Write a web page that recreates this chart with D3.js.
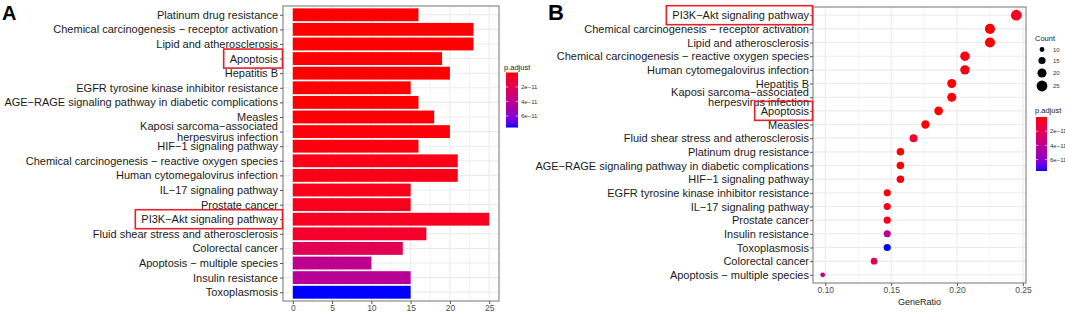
<!DOCTYPE html>
<html lang="en">

<head>
    <meta charset="UTF-8">
    <title>KEGG enrichment</title>
    <script src="https://d3js.org/d3.v7.min.js"></script>
    <style>
        body { margin: 0; background: #fff; }
        svg { display: block; font-family: 'Liberation Sans', Arial, sans-serif; }
    </style>
</head>

<body>
<svg></svg>

<script>
  // panel A (bar plot), top to bottom
  const pathways = [
    'Platinum drug resistance',
    'Chemical carcinogenesis − receptor activation',
    'Lipid and atherosclerosis',
    'Apoptosis',
    'Hepatitis B',
    'EGFR tyrosine kinase inhibitor resistance',
    'AGE−RAGE signaling pathway in diabetic complications',
    'Measles',
    'Kaposi sarcoma−associated\nherpesvirus infection',
    'HIF−1 signaling pathway',
    'Chemical carcinogenesis − reactive oxygen species',
    'Human cytomegalovirus infection',
    'IL−17 signaling pathway',
    'Prostate cancer',
    'PI3K−Akt signaling pathway',
    'Fluid shear stress and atherosclerosis',
    'Colorectal cancer',
    'Apoptosis − multiple species',
    'Insulin resistance',
    'Toxoplasmosis'
  ]
  const counts = [16, 23, 23, 19, 20, 15, 16, 18, 20, 16, 21, 21, 15, 15, 25, 17, 14, 10, 15, 15]
  const pAdjust = [2e-16, 5e-16, 1e-15, 3e-15, 1e-14, 5e-14, 1.5e-13, 4e-13, 1.2e-12, 2e-12,
    3e-12, 3.2e-12, 4e-12, 4.5e-12, 5e-12, 8e-12, 2e-11, 4e-11, 4.2e-11, 7.6e-11]

  // panel B (dot plot), top to bottom
  const dotPathways = [
    'PI3K−Akt signaling pathway',
    'Chemical carcinogenesis − receptor activation',
    'Lipid and atherosclerosis',
    'Chemical carcinogenesis − reactive oxygen species',
    'Human cytomegalovirus infection',
    'Hepatitis B',
    'Kaposi sarcoma−associated\nherpesvirus infection',
    'Apoptosis',
    'Measles',
    'Fluid shear stress and atherosclerosis',
    'Platinum drug resistance',
    'AGE−RAGE signaling pathway in diabetic complications',
    'HIF−1 signaling pathway',
    'EGFR tyrosine kinase inhibitor resistance',
    'IL−17 signaling pathway',
    'Prostate cancer',
    'Insulin resistance',
    'Toxoplasmosis',
    'Colorectal cancer',
    'Apoptosis − multiple species'
  ]
  const geneRatio = [0.245, 0.225, 0.225, 0.206, 0.206, 0.196, 0.196, 0.186, 0.176, 0.167,
    0.157, 0.157, 0.157, 0.147, 0.147, 0.147, 0.147, 0.147, 0.137, 0.098]

  const barTicks = [0, 5, 10, 15, 20, 25]
  const ratioTicks = [0.10, 0.15, 0.20, 0.25]
  const countTicks = [10, 15, 20, 25]
  const pTicks = [2e-11, 4e-11, 6e-11]
  const highlighted = ['Apoptosis', 'PI3K−Akt signaling pathway']

  const width = 1065
  const height = 312

  const svg = d3.select('svg')
    .attr('width', width)
    .attr('height', height)

  // red (small p) -> blue (large p), Lab like ggplot
  const pExtent = [0, d3.max(pAdjust)]
  const color = d3.scaleLinear()
    .domain(pExtent)
    .range(['red', 'blue'])
    .interpolate(d3.interpolateLab)

  const byName = new Map(pathways.map((p, i) => [p, { count: counts[i], p: pAdjust[i] }]))

  const gridMajor = '#ebebeb'
  const border = '#8a8a8a'
  const boxRed = '#e8202a'

  // gradient for both colour bars
  const grad = svg.append('defs').append('linearGradient')
    .attr('id', 'pgrad')
    .attr('x1', 0).attr('y1', 0).attr('x2', 0).attr('y2', 1)
  d3.range(0, 1.0001, 0.05).forEach(t => {
    grad.append('stop')
      .attr('offset', t)
      .attr('stop-color', color(pExtent[0] + t * (pExtent[1] - pExtent[0])))
  })

  // multi-line tick labels
  function wrapLabels(sel) {
    sel.selectAll('.tick text').each(function (d) {
      const lines = d.split('\n')
      if (lines.length < 2) return
      const t = d3.select(this).text(null)
      const x = t.attr('x')
      lines.forEach((l, i) => {
        t.append('tspan')
          .attr('x', x)
          .attr('dy', i === 0 ? `${0.32 - (lines.length - 1) * 0.47}em` : '0.94em')
          .text(l)
      })
    })
  }

  function styleAxis(g, fontSize, fill) {
    g.select('.domain').remove()
    g.selectAll('.tick line').attr('stroke', '#555')
    g.selectAll('.tick text')
      .attr('fill', fill)
      .style('font-size', fontSize + 'px')
      .style('font-family', "'Liberation Sans', Arial, sans-serif")
  }

  function highlightBoxes(g, yScale, panelLeft) {
    g.selectAll('.tick').each(function (d) {
      if (!highlighted.includes(d)) return
      const b = this.querySelector('text').getBBox()
      const y = yScale(d)
      g.append('rect')
        .attr('x', b.x - 6)
        .attr('y', y - 9.5)
        .attr('width', -b.x + 6 - 0.5)
        .attr('height', 19)
        .attr('fill', 'none')
        .attr('stroke', boxRed)
        .attr('stroke-width', 1.6)
    })
  }

  // ---------- panel A : bar plot ----------
  const A = { left: 283, right: 499, top: 6, bottom: 301 }
  const padA = 0.05 * d3.max(counts)
  const xA = d3.scaleLinear().domain([-padA, d3.max(counts) + padA]).range([A.left, A.right])
  const yA = d3.scalePoint().domain(pathways).range([A.top, A.bottom]).padding(0.6)

  const gA = svg.append('g')

  // grid
  const minorA = d3.pairs(barTicks).map(([a, b]) => (a + b) / 2)
  gA.append('g').selectAll('line').data(minorA).join('line')
    .attr('x1', d => xA(d)).attr('x2', d => xA(d))
    .attr('y1', A.top).attr('y2', A.bottom)
    .attr('stroke', gridMajor).attr('stroke-width', 0.6)
  gA.append('g').selectAll('line').data(barTicks).join('line')
    .attr('x1', d => xA(d)).attr('x2', d => xA(d))
    .attr('y1', A.top).attr('y2', A.bottom)
    .attr('stroke', gridMajor).attr('stroke-width', 1.1)
  gA.append('g').selectAll('line').data(pathways).join('line')
    .attr('x1', A.left).attr('x2', A.right)
    .attr('y1', d => yA(d)).attr('y2', d => yA(d))
    .attr('stroke', gridMajor).attr('stroke-width', 1.1)

  // bars
  const barH = yA.step() * 0.88
  gA.append('g').selectAll('rect').data(pathways).join('rect')
    .attr('x', xA(0))
    .attr('y', d => yA(d) - barH / 2)
    .attr('width', (d, i) => xA(counts[i]) - xA(0))
    .attr('height', barH)
    .attr('fill', (d, i) => color(pAdjust[i]))

  gA.append('rect')
    .attr('x', A.left).attr('y', A.top)
    .attr('width', A.right - A.left).attr('height', A.bottom - A.top)
    .attr('fill', 'none').attr('stroke', border).attr('stroke-width', 1.2)

  const axLeftA = gA.append('g')
    .attr('transform', `translate(${A.left},0)`)
    .call(d3.axisLeft(yA).tickSize(3).tickPadding(2))
  styleAxis(axLeftA, 11, '#1a1a1a')
  wrapLabels(axLeftA)
  highlightBoxes(axLeftA, yA, A.left)

  const axBottomA = gA.append('g')
    .attr('transform', `translate(0,${A.bottom})`)
    .call(d3.axisBottom(xA).tickValues(barTicks).tickSize(3).tickPadding(1))
  styleAxis(axBottomA, 8.5, '#4d4d4d')

  // colour legend A
  const legA = svg.append('g')
  const legAy = d3.scaleLinear().domain(pExtent).range([72.5, 127.5])
  legA.append('text').attr('x', 504).attr('y', 69.5)
    .style('font-size', '7.5px').attr('fill', '#222').text('p.adjust')
  legA.append('rect').attr('x', 506).attr('y', 72.5)
    .attr('width', 12).attr('height', 55).attr('fill', 'url(#pgrad)')
  legA.selectAll('line.tk').data(pTicks).join('line')
    .attr('x1', 506).attr('x2', 518)
    .attr('y1', d => legAy(d)).attr('y2', d => legAy(d))
    .attr('stroke', '#fff').attr('stroke-width', 0.6).attr('stroke-dasharray', '2.4,7.2,2.4')
  legA.selectAll('text.lb').data(pTicks).join('text')
    .attr('class', 'lb')
    .attr('x', 521).attr('y', d => legAy(d)).attr('dy', '0.35em')
    .style('font-size', '6px').attr('fill', '#333')
    .text(d => d3.format('.0e')(d).replace('e-', 'e−'))

  // ---------- panel B : dot plot ----------
  const B = { left: 813, right: 1026, top: 7, bottom: 283 }
  const rExt = d3.extent(geneRatio)
  const padB = 0.05 * (rExt[1] - rExt[0])
  const xB = d3.scaleLinear().domain([rExt[0] - padB, rExt[1] + padB]).range([B.left, B.right])
  const yB = d3.scalePoint().domain(dotPathways).range([B.top, B.bottom]).padding(0.6)
  const rB = d3.scaleLinear().domain([Math.sqrt(10), Math.sqrt(25)]).range([2.4, 5.4])
  const radius = c => rB(Math.sqrt(c))

  const gB = svg.append('g')

  const minorB = d3.pairs(ratioTicks).map(([a, b]) => (a + b) / 2)
  gB.append('g').selectAll('line').data(minorB).join('line')
    .attr('x1', d => xB(d)).attr('x2', d => xB(d))
    .attr('y1', B.top).attr('y2', B.bottom)
    .attr('stroke', gridMajor).attr('stroke-width', 0.6)
  gB.append('g').selectAll('line').data(ratioTicks).join('line')
    .attr('x1', d => xB(d)).attr('x2', d => xB(d))
    .attr('y1', B.top).attr('y2', B.bottom)
    .attr('stroke', gridMajor).attr('stroke-width', 1.1)
  gB.append('g').selectAll('line').data(dotPathways).join('line')
    .attr('x1', B.left).attr('x2', B.right)
    .attr('y1', d => yB(d)).attr('y2', d => yB(d))
    .attr('stroke', gridMajor).attr('stroke-width', 1.1)

  gB.append('g').selectAll('circle').data(dotPathways).join('circle')
    .attr('cx', (d, i) => xB(geneRatio[i]))
    .attr('cy', d => yB(d))
    .attr('r', d => radius(byName.get(d).count))
    .attr('fill', d => color(byName.get(d).p))

  gB.append('rect')
    .attr('x', B.left).attr('y', B.top)
    .attr('width', B.right - B.left).attr('height', B.bottom - B.top)
    .attr('fill', 'none').attr('stroke', border).attr('stroke-width', 1.2)

  const axLeftB = gB.append('g')
    .attr('transform', `translate(${B.left},0)`)
    .call(d3.axisLeft(yB).tickSize(3).tickPadding(1))
  styleAxis(axLeftB, 11, '#1a1a1a')
  wrapLabels(axLeftB)
  highlightBoxes(axLeftB, yB, B.left)

  const axBottomB = gB.append('g')
    .attr('transform', `translate(0,${B.bottom})`)
    .call(d3.axisBottom(xB).tickValues(ratioTicks).tickFormat(d3.format('.2f')).tickSize(3).tickPadding(1))
  styleAxis(axBottomB, 8.5, '#4d4d4d')

  gB.append('text')
    .attr('x', (B.left + B.right) / 2).attr('y', 305)
    .attr('text-anchor', 'middle')
    .style('font-size', '9px').attr('fill', '#222')
    .text('GeneRatio')

  // size legend B
  const legB = svg.append('g')
  const countY = [49.5, 60.5, 73, 86]
  legB.append('text').attr('x', 1035).attr('y', 41)
    .style('font-size', '7.5px').attr('fill', '#222').text('Count')
  legB.selectAll('circle').data(countTicks).join('circle')
    .attr('cx', 1042).attr('cy', (d, i) => countY[i])
    .attr('r', d => radius(d)).attr('fill', '#000')
  legB.selectAll('text.ct').data(countTicks).join('text')
    .attr('class', 'ct')
    .attr('x', 1053).attr('y', (d, i) => countY[i]).attr('dy', '0.35em')
    .style('font-size', '6px').attr('fill', '#333').text(d => d)

  // colour legend B
  const legBy = d3.scaleLinear().domain(pExtent).range([117, 171])
  legB.append('text').attr('x', 1035).attr('y', 113)
    .style('font-size', '7.5px').attr('fill', '#222').text('p.adjust')
  legB.append('rect').attr('x', 1036).attr('y', 117)
    .attr('width', 11).attr('height', 54).attr('fill', 'url(#pgrad)')
  legB.selectAll('line.tk').data(pTicks).join('line')
    .attr('x1', 1036).attr('x2', 1047)
    .attr('y1', d => legBy(d)).attr('y2', d => legBy(d))
    .attr('stroke', '#fff').attr('stroke-width', 0.6).attr('stroke-dasharray', '2.2,6.6,2.2')
  legB.selectAll('text.lb').data(pTicks).join('text')
    .attr('class', 'lb')
    .attr('x', 1050).attr('y', d => legBy(d)).attr('dy', '0.35em')
    .style('font-size', '6px').attr('fill', '#333')
    .text(d => d3.format('.0e')(d).replace('e-', 'e−'))

  // panel tags
  svg.append('text').attr('x', 2).attr('y', 20)
    .style('font-size', '20px').style('font-weight', 'bold').text('A')
  svg.append('text').attr('x', 548).attr('y', 19.5)
    .style('font-size', '22px').style('font-weight', 'bold').text('B')
</script>

</body>

</html>
